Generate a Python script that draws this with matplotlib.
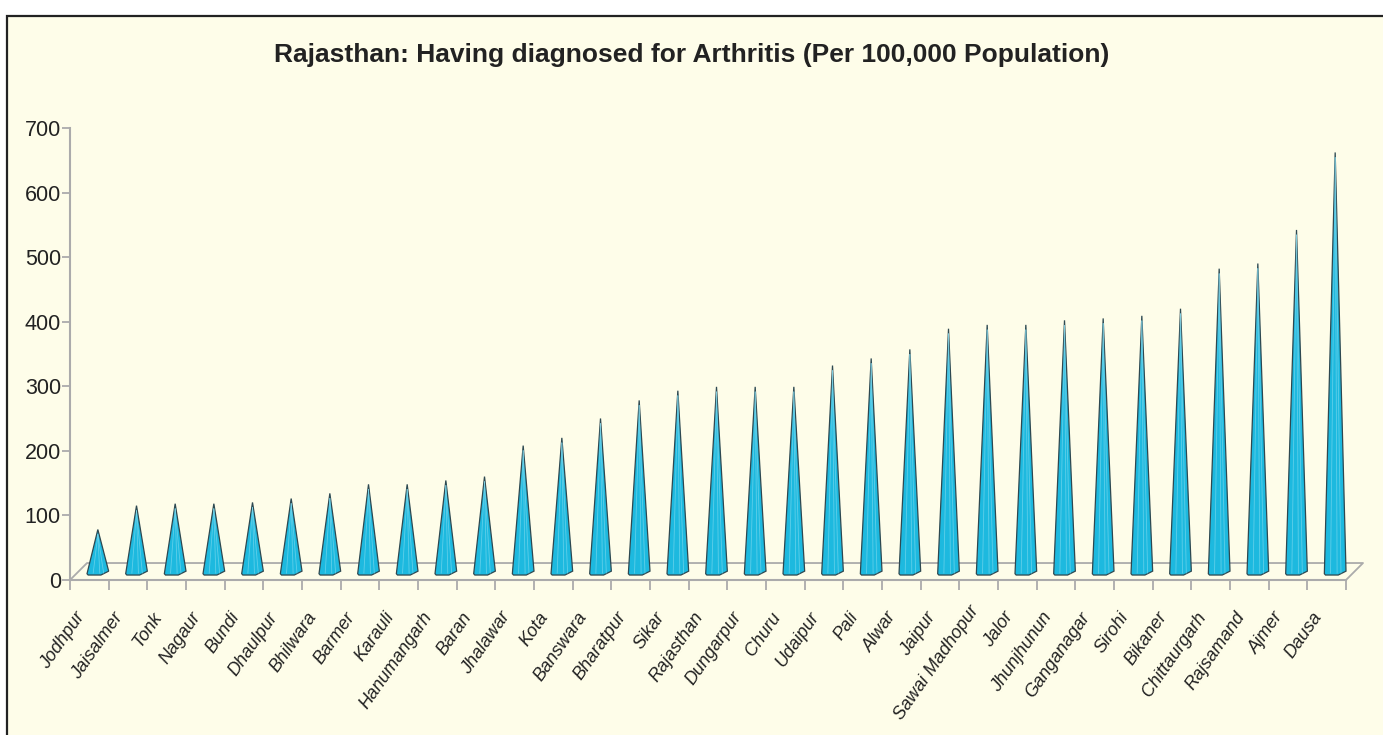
import matplotlib
matplotlib.use("Agg")
import matplotlib.pyplot as plt
import numpy as np
from matplotlib.patches import Polygon, Rectangle
from matplotlib.transforms import offset_copy

districts = ["Jodhpur", "Jaisalmer", "Tonk", "Nagaur", "Bundi", "Dhaulpur", "Bhilwara",
             "Barmer", "Karauli", "Hanumangarh", "Baran", "Jhalawar", "Kota", "Banswara",
             "Bharatpur", "Sikar", "Rajasthan", "Dungarpur", "Churu", "Udaipur", "Pali",
             "Alwar", "Jaipur", "Sawai Madhopur", "Jalor", "Jhunjhunun", "Ganganagar",
             "Sirohi", "Bikaner", "Chittaurgarh", "Rajsamand", "Ajmer", "Dausa"]
values = [65, 102, 105, 105, 107, 113, 121, 135, 135, 141, 147, 195, 207, 237, 265,
          280, 286, 286, 286, 319, 330, 344, 376, 382, 382, 389, 392, 396, 407, 469,
          477, 529, 649]
yticks = [0, 100, 200, 300, 400, 500, 600, 700]

bg = "#FEFDE9"
cone_col = "#1DB9DF"
edge_col = "#2E4850"
grid_col = "#ABABAB"
narrow = ["Liberation Sans Narrow", "Liberation Sans", "DejaVu Sans"]

fig = plt.figure(figsize=(13.83, 7.35), dpi=100)
fig.patch.set_facecolor("white")
fig.patches.append(Rectangle((7 / 1383, -0.01), 1.02, 1.0 - 9 / 735,
                             transform=fig.transFigure, facecolor=bg,
                             edgecolor="#222222", linewidth=1.6, zorder=-10))

ax = fig.add_axes([70 / 1383, 155 / 735, 1276 / 1383, 452 / 735])
ax.set_facecolor("none")
n = len(districts)
ax.set_xlim(0, n)
ax.set_ylim(0, 700)

# depth of the 3d floor in data units
ddx = 0.44
ddy = 26.3

# floor
ax.plot([0, ddx, n + ddx, n], [0, ddy, ddy, 0], color=grid_col, lw=1.3,
        clip_on=False, zorder=1)
ax.plot([0, n], [0, 0], color=grid_col, lw=1.5, clip_on=False, zorder=1)

# cones
hw = 0.28
for i, v in enumerate(values):
    c = i + 0.5 + ddx / 2
    b0 = 7.7
    apex = v + ddy / 2
    pts = [(c - hw, b0 + 2), (c - hw + 0.03, b0), (c + 0.08, b0),
           (c + hw, b0 + 6), (c, apex)]
    ax.add_patch(Polygon(pts, closed=True, facecolor=cone_col, edgecolor=edge_col,
                         linewidth=0.9, clip_on=False, zorder=3))
    for f in (-0.12, 0.05, 0.15):
        ax.plot([c + f, c], [b0 + 3, apex - 8], color="#8ADDF0", lw=0.6,
                alpha=0.6, clip_on=False, zorder=4)

for s in ["top", "right", "bottom"]:
    ax.spines[s].set_visible(False)
ax.spines["left"].set_color(grid_col)
ax.spines["left"].set_linewidth(1.5)

ax.set_yticks(yticks)
ax.set_yticklabels([str(t) for t in yticks], fontfamily=narrow, fontsize=15.5,
                   color="#222222")
ax.tick_params(axis="y", direction="out", length=6, width=1.3, color=grid_col, pad=0.5)

ax.set_xticks(range(n + 1))
ax.set_xticklabels([])
ax.tick_params(axis="x", which="major", direction="out", length=7, width=1.3,
               color=grid_col)

rot = 55
labels = []
for i, name in enumerate(districts):
    t = ax.text(i + 0.5, 0, name,
                transform=offset_copy(ax.get_xaxis_transform(), fig=fig, x=-15, y=-29, units="dots"),
                rotation=rot, ha="right", va="top", rotation_mode="anchor",
                fontfamily=narrow, fontsize=13, fontstyle="italic", color="#222222")
    labels.append(t)

# long labels get pushed up along their direction so they stay inside the figure
fig.canvas.draw()
margin = 12
for i, t in enumerate(labels):
    bb = t.get_window_extent()
    if bb.y0 < margin:
        dy = margin - bb.y0
        dx = dy / np.tan(np.radians(rot))
        t.set_transform(offset_copy(ax.get_xaxis_transform(), fig=fig,
                                    x=-15 + dx, y=-29 + dy, units="dots"))

fig.text(0.5, (735 - 55) / 735, "Rajasthan: Having diagnosed for Arthritis (Per 100,000 Population)",
         ha="center", va="center", fontsize=19, fontweight="bold",
         fontfamily=["Liberation Sans", "DejaVu Sans"], color="#222222")

fig.savefig("out.png", dpi=100, facecolor=fig.get_facecolor())
